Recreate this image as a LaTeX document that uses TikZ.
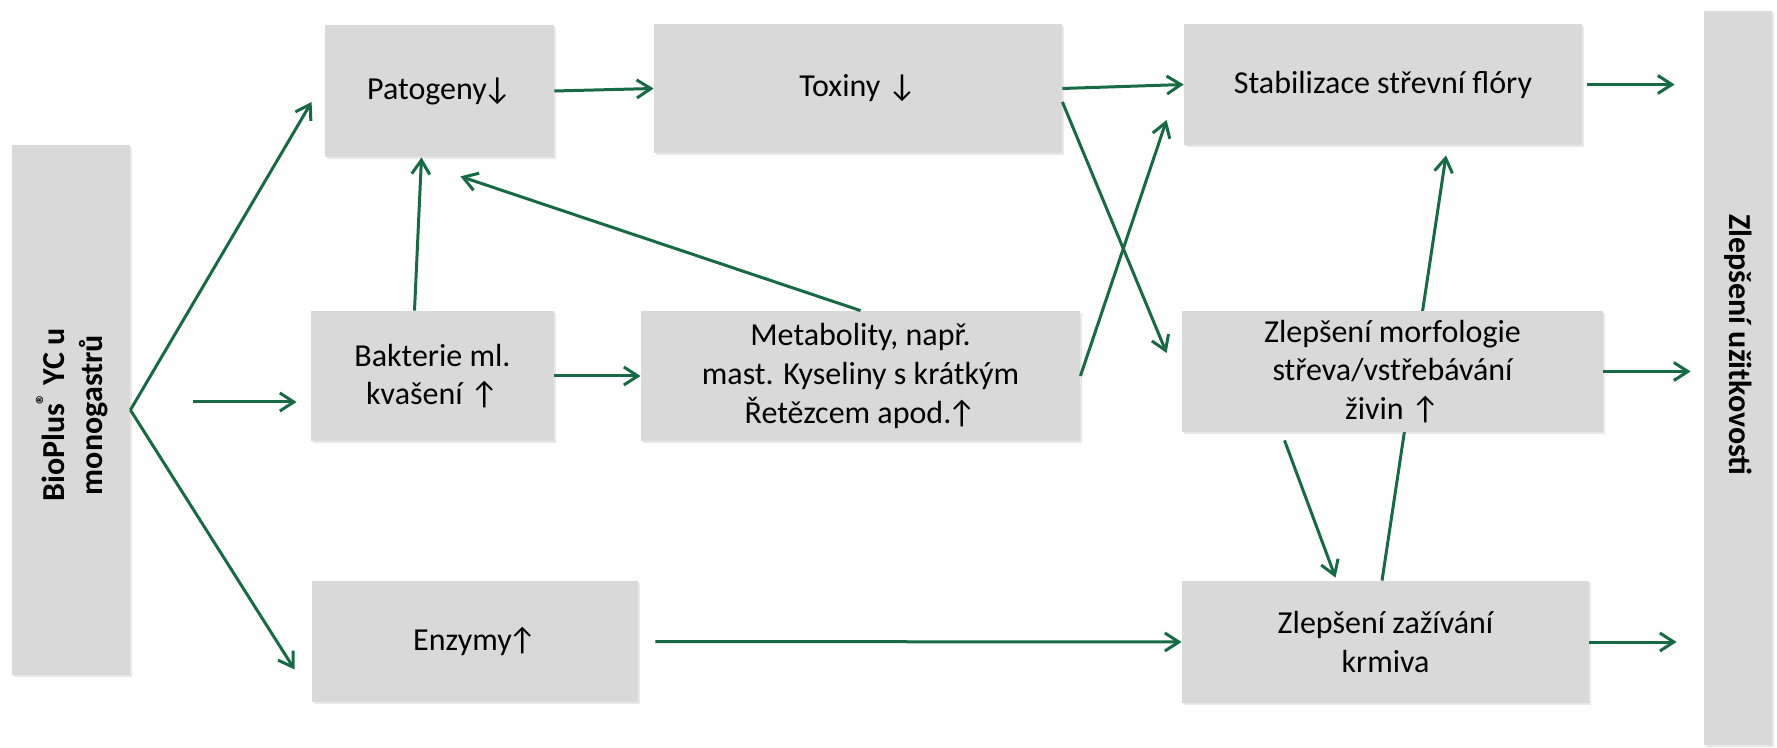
\documentclass[tikz,border=0pt]{standalone}
\usepackage{fontspec}
\setmainfont{Carlito}
\usetikzlibrary{arrows.meta,shadows}
\definecolor{boxgray}{RGB}{217,217,217}
\definecolor{arrgreen}{RGB}{22,107,68}
\pgfdeclarelayer{back}
\pgfsetlayers{back,main}

\begin{document}
\begin{tikzpicture}[x=0.5pt,y=-0.5pt,
  font=\fontsize{16}{19.3}\selectfont,
  box/.style={rectangle,fill=boxgray,inner sep=0pt,align=center,
    drop shadow={shadow xshift=1pt,shadow yshift=-1.2pt,opacity=0.18}},
  vtext/.style={align=center,font=\bfseries\fontsize{16}{19.3}\selectfont},
  arr/.style={draw=arrgreen,line width=1.5pt,-{Straight Barb[length=7pt,width=9pt]}}]
  \useasboundingbox (0,0) rectangle (1777,748);
  % boxes
  \node[box,minimum width=59pt,minimum height=265pt] (bio) at (71,410) {};
  \node[vtext,rotate=90] (biotext) at (72,415) {BioPlus\kern-0.5pt\textsuperscript{®} YC u\\monogastrů};
  \node[box,minimum width=114.5pt,minimum height=66pt] (pat) at (439.5,91) {Patogeny\kern-2pt↓};
  \node[box,minimum width=204pt,minimum height=64.5pt] (tox) at (858,88.5) {Toxiny ↓};
  \node[box,minimum width=199pt,minimum height=60.5pt] (stab) at (1383,84.5) {Stabilizace střevní flóry};
  \node[box,minimum width=121.5pt,minimum height=65pt] (bak) at (432.5,376) {Bakterie ml.\\kvašení ↑};
  \node[box,minimum width=219.5pt,minimum height=65pt] (met) at (860.5,376) {Metabolity, např.\\mast. Kyseliny s krátkým\\Řetězcem apod.\kern-2pt↑};
  \node[box,minimum width=210.5pt,minimum height=60.5pt] (morf) at (1392.5,371.5) {Zlepšení morfologie\\střeva/vstřebávání\\živin ↑};
  \node[box,minimum width=163pt,minimum height=60.5pt] (enz) at (475,641.5) {Enzymy\kern-2pt↑};
  \node[box,minimum width=203.5pt,minimum height=61pt] (zaz) at (1385.5,642) {Zlepšení zažívání\\krmiva};
  \node[box,minimum width=34pt,minimum height=367pt] (out) at (1738,378) {};
  \node[vtext,rotate=-90] (outtext) at (1738,345) {Zlepšení užitkovosti};
  % arrows
  \draw[arr] (bio.east) -- ([xshift=-6.5pt,yshift=-5.5pt]pat.west);
  \draw[arr] ([xshift=-59pt,yshift=-13pt]bak.west) -- ([xshift=-7pt,yshift=-13pt]bak.west);
  \draw[arr] (bio.east) -- ([xshift=-8.5pt,yshift=-14pt]enz.west);
  \draw[arr] (pat.east) -- (tox.west);
  \draw[arr] ([xshift=-9pt]bak.north) -- ([xshift=-9pt]pat.south);
  \draw[arr] (met.north) -- ([xshift=-47pt,yshift=-9.5pt]pat.south east);
  \draw[arr] (bak.east) -- (met.west);
  \draw[arr] (met.east) -- ([xshift=-8.5pt,yshift=-17.75pt]stab.west);
  \draw[arr] (tox.east) -- (stab.west);
  \draw[arr] ([yshift=-6.75pt]tox.east) -- ([xshift=-7.5pt,yshift=9.25pt]morf.west);
  \draw[arr] ([xshift=-54pt,yshift=-4pt]morf.south) -- ([xshift=-25pt,yshift=1.5pt]zaz.north);
  \begin{pgfonlayer}{back}
    \draw[arr] ([xshift=-1.75pt]zaz.north) -- ([xshift=31.5pt,yshift=-5pt]stab.south);
  \end{pgfonlayer}
  \draw[arr,shorten <=8.5pt] (enz.east) -- (zaz.west);
  \draw[arr,shorten <=2.5pt,shorten >=14.5pt] (stab.east) -- (stab.east -| out.west);
  \draw[arr,shorten >=6.5pt] (morf.east) -- (morf.east -| out.west);
  \draw[arr,shorten >=13.5pt] (zaz.east) -- (zaz.east -| out.west);
\end{tikzpicture}
\end{document}
